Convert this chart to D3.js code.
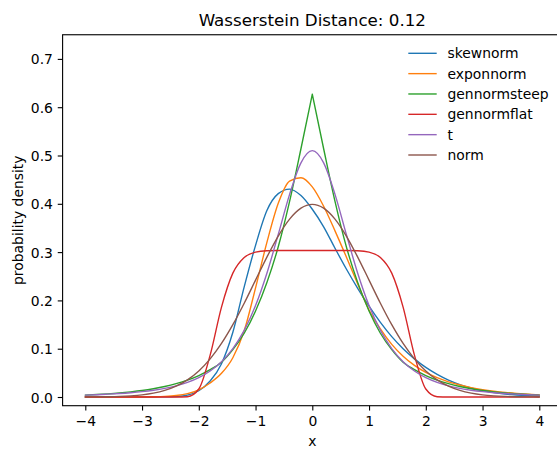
<!DOCTYPE html>
<html>
<head>
<meta charset="utf-8">
<script src="https://cdn.jsdelivr.net/npm/d3@7"></script>
<style>
html,body{margin:0;padding:0;background:#fff;}
svg{display:block;}
</style>
</head>
<body>
<svg id="chart" width="557" height="449"></svg>
<script>
// ---------------- data ----------------
const xs = [-4,-3.8,-3.6,-3.4,-3.2,-3,-2.8,-2.6,-2.4,-2.2,-2,-1.8,-1.6,-1.4,-1.2,-1,-0.8,-0.6,-0.4,-0.2,0,
            0.2,0.4,0.6,0.8,1,1.2,1.4,1.6,1.8,2,2.2,2.4,2.6,2.8,3,3.2,3.4,3.6,3.8,4];

const skewnorm = [0,0,0,0,0,0,0.0001,0.0003,0.001,0.004,0.013,0.033,0.069,0.134,0.228,0.314,0.386,0.421,0.4305,0.417,0.3887,
                  0.3524,0.308,0.265,0.225,0.188,0.1545,0.125,0.1,0.079,0.0612,0.0468,0.035,0.0257,0.0186,0.0131,0.0091,0.0062,0.0042,0.0028,0.0018];

const exponnorm = [0,0,0,0,0.0001,0.0002,0.0005,0.0012,0.003,0.007,0.015,0.029,0.049,0.0813,0.137,0.226,0.32,0.401,0.447,0.454,0.435,
                   0.395,0.344,0.29,0.234,0.18,0.141,0.109,0.0845,0.0655,0.051,0.04,0.0315,0.0248,0.0195,0.0153,0.012,0.0094,0.0074,0.0058,0.0045];

const gennormsteep = [0.004,0.0051,0.0065,0.0083,0.0106,0.0134,0.0171,0.0217,0.0276,0.035,0.0445,0.0566,0.072,0.098,0.132,0.178,0.237,0.311,0.405,0.514,0.627,
                      0.514,0.405,0.311,0.237,0.178,0.132,0.098,0.072,0.0566,0.0445,0.035,0.0276,0.0217,0.0171,0.0134,0.0106,0.0083,0.0065,0.0051,0.004];

const gennormflat = [0,0,0,0,0,0,0,0,0,0.0006,0.0165,0.0867,0.1862,0.2565,0.2889,0.3,0.3028,0.3033,0.3034,0.3034,0.3034,
                     0.3034,0.3034,0.3033,0.3028,0.3,0.2889,0.2565,0.1862,0.0867,0.0165,0.0006,0,0,0,0,0,0,0,0,0];

const tdist = [0.004,0.0048,0.0059,0.0072,0.0089,0.0111,0.014,0.0179,0.0231,0.0303,0.0401,0.0538,0.073,0.1001,0.1378,0.1893,0.2563,0.3366,0.4195,0.4848,0.51,
               0.4848,0.4195,0.3366,0.2563,0.1893,0.1378,0.1001,0.073,0.0538,0.0401,0.0303,0.0231,0.0179,0.014,0.0111,0.0089,0.0072,0.0059,0.0048,0.004];

const norm = [0.0001,0.0003,0.0006,0.0012,0.0024,0.0044,0.0079,0.0136,0.0224,0.0355,0.054,0.079,0.1109,0.1497,0.1942,0.242,0.2897,0.3332,0.3683,0.391,0.3989,
              0.391,0.3683,0.3332,0.2897,0.242,0.1942,0.1497,0.1109,0.079,0.054,0.0355,0.0224,0.0136,0.0079,0.0044,0.0024,0.0012,0.0006,0.0003,0.0001];

const seriesNames = ["skewnorm","exponnorm","gennormsteep","gennormflat","t","norm"];
const seriesValues = [skewnorm, exponnorm, gennormsteep, gennormflat, tdist, norm];
const cuspSeries = ["gennormsteep"];

const xTicks = [-4,-3,-2,-1,0,1,2,3,4];
const yTicks = [0,0.1,0.2,0.3,0.4,0.5,0.6,0.7];
const titleText = "Wasserstein Distance: 0.12";
const xLabelText = "x";
const yLabelText = "probability density";

// ---------------- styles / layout ----------------
const seriesColors = ["#1f77b4","#ff7f0e","#2ca02c","#d62728","#9467bd","#8c564b"];
const FONT = "DejaVu Sans, Liberation Sans, sans-serif";
const W = 557, H = 449;
const L = 62.6, R = 562, T = 34.75, B = 405.7;
const TICK = 4.86, LW = 1.39, SPINE = 1.11;

const svg = d3.select("#chart");
svg.append("rect").attr("width", W).attr("height", H).attr("fill", "#fff");

const x = d3.scaleLinear().domain([-4.4, 4.4]).range([L, R]);
const y = d3.scaleLinear().domain([-0.018, 0.75]).range([B, T]);

svg.append("defs").append("clipPath").attr("id", "clip")
  .append("rect").attr("x", L).attr("y", T).attr("width", R - L).attr("height", B - T);

// curves
const line = d3.line().x(d => x(d[0])).y(d => y(d[1])).curve(d3.curveMonotoneX);
const plot = svg.append("g").attr("clip-path", "url(#clip)");
seriesNames.forEach((name, i) => {
  const pts = xs.map((xv, j) => [xv, seriesValues[i][j]]);
  let d;
  if (cuspSeries.includes(name)) {
    const k = d3.maxIndex(pts, p => p[1]);
    d = line(pts.slice(0, k + 1)) + line(pts.slice(k));
  } else {
    d = line(pts);
  }
  plot.append("path")
    .attr("d", d)
    .attr("fill", "none")
    .attr("stroke", seriesColors[i])
    .attr("stroke-width", LW)
    .attr("stroke-linejoin", "round")
    .attr("stroke-linecap", "round");
});

// axes
const fmtX = d => (d < 0 ? "\u2212" : "") + Math.abs(d);
const gx = svg.append("g").attr("transform", `translate(0,${B})`)
  .call(d3.axisBottom(x).tickValues(xTicks).tickSize(TICK).tickSizeOuter(0).tickPadding(5.9).tickFormat(fmtX));
const gy = svg.append("g").attr("transform", `translate(${L},0)`)
  .call(d3.axisLeft(y).tickValues(yTicks).tickSize(TICK).tickSizeOuter(0).tickPadding(4.86).tickFormat(d3.format(".1f")));

[gx, gy].forEach(g => {
  g.attr("font-family", FONT).attr("font-size", 13.9);
  g.select(".domain").remove();
  g.selectAll(".tick line").attr("stroke", "#000").attr("stroke-width", SPINE);
  g.selectAll(".tick text").attr("fill", "#000");
});
gy.selectAll(".tick text").attr("dy", "0.36em");

// spines
svg.append("rect")
  .attr("x", L).attr("y", T).attr("width", R - L).attr("height", B - T)
  .attr("fill", "none").attr("stroke", "#000").attr("stroke-width", SPINE);

// title & labels
svg.append("text")
  .attr("x", (L + R) / 2).attr("y", 25.7)
  .attr("text-anchor", "middle")
  .attr("font-family", FONT).attr("font-size", 16.7).attr("fill", "#000")
  .text(titleText);

svg.append("text")
  .attr("x", (L + R) / 2).attr("y", 445.5)
  .attr("text-anchor", "middle")
  .attr("font-family", FONT).attr("font-size", 13.9).attr("fill", "#000")
  .text(xLabelText);

svg.append("text")
  .attr("transform", `translate(22.6,${(T + B) / 2}) rotate(-90)`)
  .attr("text-anchor", "middle")
  .attr("font-family", FONT).attr("font-size", 13.9).attr("fill", "#000")
  .text(yLabelText);

// legend (no frame)
const legend = svg.append("g");
const legX0 = 408.3, legX1 = 436.7, legTextX = 447.5, legY0 = 53.3, legDY = 20.34;
seriesNames.forEach((name, i) => {
  const yy = legY0 + i * legDY;
  legend.append("line")
    .attr("x1", legX0).attr("x2", legX1).attr("y1", yy).attr("y2", yy)
    .attr("stroke", seriesColors[i]).attr("stroke-width", LW);
  legend.append("text")
    .attr("x", legTextX).attr("y", yy + 5)
    .attr("font-family", FONT).attr("font-size", 13.9).attr("fill", "#000")
    .text(name);
});
</script>
</body>
</html>
